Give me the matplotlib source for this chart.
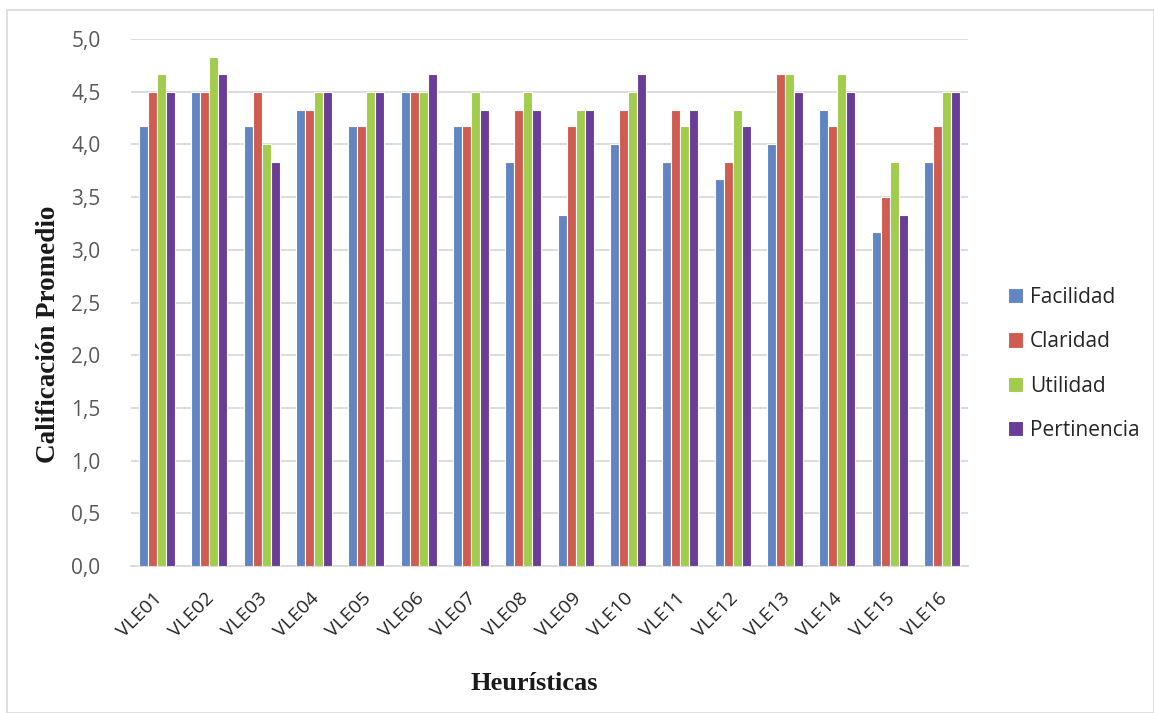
import numpy as np
import matplotlib
matplotlib.use("Agg")
import matplotlib.pyplot as plt
from matplotlib.patches import Rectangle
from matplotlib.transforms import ScaledTranslation

categories = ["VLE01", "VLE02", "VLE03", "VLE04", "VLE05", "VLE06", "VLE07", "VLE08",
              "VLE09", "VLE10", "VLE11", "VLE12", "VLE13", "VLE14", "VLE15", "VLE16"]
facilidad = [4.17, 4.50, 4.17, 4.33, 4.17, 4.50, 4.17, 3.83,
             3.33, 4.00, 3.83, 3.67, 4.00, 4.33, 3.17, 3.83]
claridad = [4.50, 4.50, 4.50, 4.33, 4.17, 4.50, 4.17, 4.33,
            4.17, 4.33, 4.33, 3.83, 4.67, 4.17, 3.50, 4.17]
utilidad = [4.67, 4.83, 4.00, 4.50, 4.50, 4.50, 4.50, 4.50,
            4.33, 4.50, 4.17, 4.33, 4.67, 4.67, 3.83, 4.50]
pertinencia = [4.50, 4.67, 3.83, 4.50, 4.50, 4.67, 4.33, 4.33,
               4.33, 4.67, 4.33, 4.17, 4.50, 4.50, 3.33, 4.50]
series_names = ["Facilidad", "Claridad", "Utilidad", "Pertinencia"]
y_ticks = [0.0, 0.5, 1.0, 1.5, 2.0, 2.5, 3.0, 3.5, 4.0, 4.5, 5.0]

colors = ["#6185C3", "#D05B50", "#A2CC4B", "#6A3D98"]
series = [facilidad, claridad, utilidad, pertinencia]

fig = plt.figure(figsize=(11.54, 7.13), dpi=100)
fig.patches.append(Rectangle((7 / 1154, 0), 1 - 7 / 1154, 1 - 10 / 713,
                             transform=fig.transFigure, fill=False,
                             edgecolor="#D9D9D9", linewidth=1.2))
ax = fig.add_axes([131 / 1154, 1 - 566 / 713, (968 - 131) / 1154, (566 - 39) / 713])

x = np.arange(len(categories))
bw = 0.172
for i, (vals, col, name) in enumerate(zip(series, colors, series_names)):
    ax.bar(x + (i - 1.5) * bw, vals, width=bw, color=col, edgecolor="white",
           linewidth=0.8, label=name, zorder=3)

ax.set_xlim(-0.5, len(categories) - 0.5)
ax.set_ylim(0, 5.0)
ax.set_yticks(y_ticks)
ax.set_yticklabels([f"{v:.1f}".replace(".", ",") for v in y_ticks])
ax.yaxis.grid(True, color="#D9D9D9", linewidth=1.3, zorder=0)
ax.set_axisbelow(True)
for s in ["top", "right", "left"]:
    ax.spines[s].set_visible(False)
ax.spines["bottom"].set_color("#D9D9D9")
ax.spines["bottom"].set_linewidth(1.3)
ax.tick_params(axis="both", length=0)
ax.tick_params(axis="y", labelsize=15, labelcolor="#595959", pad=22)
ax.set_xticks(x)
ax.set_xticklabels(categories, rotation=45, ha="right", rotation_mode="anchor",
                   fontsize=14, color="#262626", family="Open Sans")
ax.tick_params(axis="x", pad=17)
shift = ScaledTranslation(-4 / 100, 0, fig.dpi_scale_trans)
for lab in ax.get_xticklabels():
    lab.set_transform(lab.get_transform() + shift)
for lab in ax.get_yticklabels():
    lab.set_family("Open Sans")

fig.text(49 / 1154, 1 - 334 / 713, "Calificación Promedio", rotation=90,
         ha="center", va="center", fontsize=19.5, fontweight="bold",
         family="Liberation Serif", color="#1a1a1a")
fig.text(534 / 1154, 1 - 684 / 713, "Heurísticas", ha="center", va="center",
         fontsize=19, fontweight="bold", family="Liberation Serif", color="#1a1a1a")

leg = fig.legend(loc="center left", bbox_to_anchor=(989 / 1154, 1 - 364 / 713),
                 frameon=False, prop={"family": "Open Sans", "size": 15},
                 handlelength=0.75, handleheight=0.75, handletextpad=0.3,
                 labelspacing=1.12, labelcolor="#262626")

fig.savefig("out.png", dpi=100)
